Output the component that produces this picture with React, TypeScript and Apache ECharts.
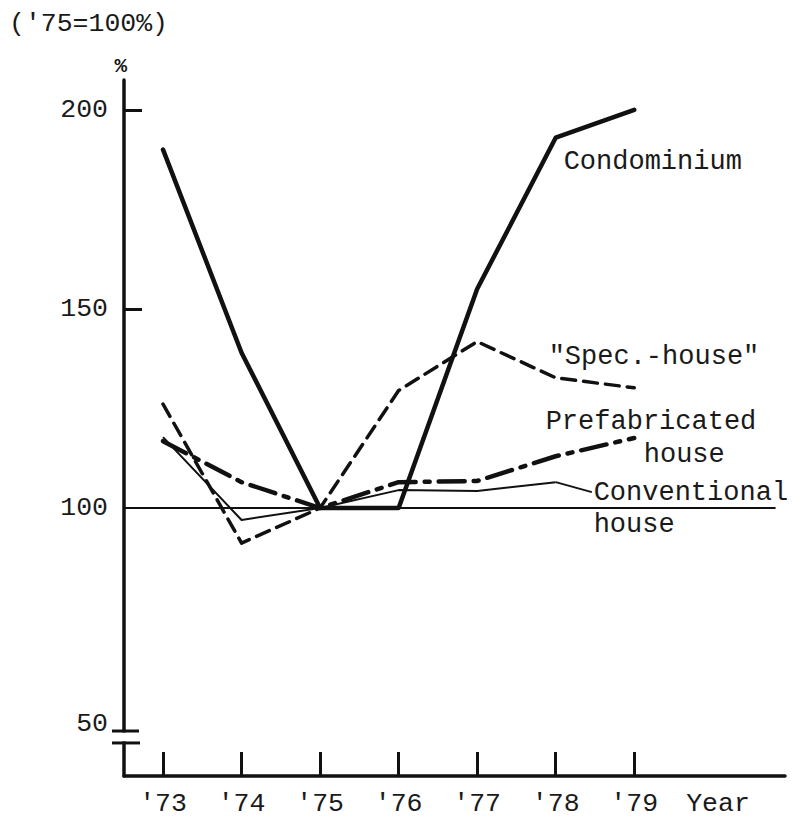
import React, { useEffect, useRef } from "react";
import * as echarts from "echarts";

// ---- data ----
const YEARS = [1973, 1974, 1975, 1976, 1977, 1978, 1979];
const X_TICK_LABELS = ["'73", "'74", "'75", "'76", "'77", "'78", "'79"];
const CONDOMINIUM = [190, 139, 100, 100, 155, 193, 200];
const SPEC_HOUSE = [126.1, 91.2, 100, 129.5, 141.8, 132.7, 130.2];
const PREFAB_HOUSE = [116.8, 106.5, 100, 106.5, 106.8, 113, 117.6];
const CONVENTIONAL_HOUSE = [117.8, 97, 100, 104.5, 104.3, 106.5];
// broken axis: the "50" mark is drawn at the break, not to scale
const BREAK_MARKS = [44.0, 41.0];
const Y_LABEL_VALUES = [BREAK_MARKS[0], 100, 150, 200];
const Y_LABELS = ["50", "100", "150", "200"];
const BASE_LINE = 100;

const X_MIN = 1972.503;
const X_MAX = 1980.92;
const Y_MIN = 32.7;
const Y_MAX = 207.5;

const FONT = "'Liberation Mono', 'Courier New', monospace";
const INK = "#111";
const TEXT = "#1a1a1a";

function pts(vals: number[]) {
  return vals.map((v, i) => [YEARS[i], v]);
}

function lbl(coord: number[], text: string) {
  return {
    coord,
    value: text,
    symbol: "circle",
    symbolSize: 1,
    itemStyle: { color: "rgba(0,0,0,0)" },
    label: {
      show: true,
      position: "right",
      distance: 0,
      formatter: text,
      fontFamily: FONT,
      fontSize: 27,
      color: TEXT,
    },
  };
}

export default function App() {
  const ref = useRef<HTMLDivElement>(null);
  useEffect(() => {
    if (!ref.current) return;
    const chart = echarts.init(ref.current, null, { renderer: "svg" });
    const option: any = {
      animation: false,
      backgroundColor: "#fff",
      textStyle: { fontFamily: FONT },
      title: {
        text: "('75=100%)",
        left: 4,
        top: 5,
        textStyle: { fontFamily: FONT, fontSize: 26.5, fontWeight: "normal", color: TEXT },
      },
      grid: {
        left: 124,
        right: 7,
        top: 80,
        bottom: 41,
        containLabel: false,
        outerBoundsMode: "none",
      },
      xAxis: {
        type: "value",
        min: X_MIN,
        max: X_MAX,
        splitLine: { show: false },
        axisLine: { show: true, lineStyle: { color: INK, width: 3.5 } },
        axisTick: {
          show: true,
          inside: true,
          length: 24,
          customValues: YEARS,
          lineStyle: { color: INK, width: 3 },
        },
        axisLabel: {
          show: true,
          customValues: YEARS,
          margin: 14,
          fontFamily: FONT,
          fontSize: 26.5,
          color: TEXT,
          formatter: (v: number) => X_TICK_LABELS[YEARS.indexOf(Math.round(v))] ?? "",
        },
        name: "Year",
        nameLocation: "end",
        nameGap: -67,
        nameTextStyle: {
          fontFamily: FONT,
          fontSize: 26.5,
          color: TEXT,
          align: "center",
          verticalAlign: "top",
          padding: [14, 0, 0, 0],
        },
      },
      yAxis: {
        type: "value",
        min: Y_MIN,
        max: Y_MAX,
        splitLine: { show: false },
        axisLine: { show: true, lineStyle: { color: INK, width: 3.5 } },
        axisTick: {
          show: true,
          inside: true,
          length: 18,
          customValues: [150, 200],
          lineStyle: { color: INK, width: 3 },
        },
        axisLabel: {
          show: true,
          customValues: Y_LABEL_VALUES,
          margin: 16,
          fontFamily: FONT,
          fontSize: 26.5,
          color: TEXT,
          formatter: (v: number) => {
            const i = Y_LABEL_VALUES.findIndex((x) => Math.abs(x - v) < 1e-6);
            if (i < 0) return "";
            return i === 0 ? "{brk|" + Y_LABELS[i] + "}" : Y_LABELS[i];
          },
          rich: {
            brk: {
              fontFamily: FONT,
              fontSize: 26.5,
              color: TEXT,
              padding: [0, 0, 14, 0],
            },
          },
        },
        name: "%",
        nameLocation: "end",
        nameGap: 3,
        nameTextStyle: {
          fontFamily: FONT,
          fontSize: 21,
          fontWeight: "bold",
          color: INK,
          align: "right",
          verticalAlign: "bottom",
          padding: [0, -3, 0, 0],
        },
      },
      series: [
        {
          name: "Condominium",
          type: "line",
          data: pts(CONDOMINIUM),
          symbol: "none",
          z: 5,
          lineStyle: { color: INK, width: 4.5, cap: "round", join: "round" },
          markLine: {
            silent: true,
            symbol: "none",
            label: { show: false },
            lineStyle: { color: INK, width: 1.8, type: "solid" },
            data: [[{ coord: [X_MIN, BASE_LINE] }, { coord: [1980.8, BASE_LINE] }]],
          },
          markPoint: { silent: true, data: [lbl([1978.095, 186.9], "Condominium")] },
        },
        {
          name: "Spec.-house",
          type: "line",
          data: pts(SPEC_HOUSE),
          symbol: "none",
          z: 4,
          lineStyle: { color: INK, width: 3.5, type: [14, 8], cap: "round", join: "round" },
          markPoint: { silent: true, data: [lbl([1977.904, 137.94], '"Spec.-house"')] },
        },
        {
          name: "Prefabricated house",
          type: "line",
          data: pts(PREFAB_HOUSE),
          symbol: "none",
          z: 4,
          lineStyle: { color: INK, width: 4.5, type: [26, 9, 5, 9], cap: "round", join: "round" },
          markPoint: {
            silent: true,
            data: [lbl([1977.866, 121.61], "Prefabricated"), lbl([1979.115, 113.33], "house")],
          },
        },
        {
          name: "Conventional house",
          type: "line",
          data: pts(CONVENTIONAL_HOUSE),
          symbol: "none",
          z: 3,
          lineStyle: { color: INK, width: 2, join: "round" },
          markLine: {
            silent: true,
            symbol: "none",
            label: { show: false },
            lineStyle: { color: INK, width: 2, type: "solid" },
            data: [[{ coord: [1978, 106.5] }, { coord: [1978.46, 104.0] }]],
          },
          markPoint: {
            silent: true,
            data: [lbl([1978.477, 103.77], "Conventional"), lbl([1978.477, 95.75], "house")],
          },
        },
      ],
    };
    chart.setOption(option);

    const ax = chart.convertToPixel({ xAxisIndex: 0 }, X_MIN) as number;
    const y1 = chart.convertToPixel({ yAxisIndex: 0 }, BREAK_MARKS[0]) as number;
    const y2 = chart.convertToPixel({ yAxisIndex: 0 }, BREAK_MARKS[1]) as number;
    chart.setOption({
      graphic: [
        {
          type: "rect",
          shape: { x: ax - 5, y: y1 + 1.5, width: 10, height: y2 - y1 - 3 },
          style: { fill: "#fff" },
          z: 100,
        },
        {
          type: "line",
          shape: { x1: ax - 12, y1: y1, x2: ax + 15, y2: y1 },
          style: { stroke: INK, lineWidth: 3 },
          z: 101,
        },
        {
          type: "line",
          shape: { x1: ax - 12, y1: y2, x2: ax + 16, y2: y2 },
          style: { stroke: INK, lineWidth: 3 },
          z: 101,
        },
      ],
    });

    return () => chart.dispose();
  }, []);

  return (
    <div
      ref={ref}
      style={{ position: "fixed", left: 0, top: 0, width: 792, height: 817, background: "#fff" }}
    />
  );
}
